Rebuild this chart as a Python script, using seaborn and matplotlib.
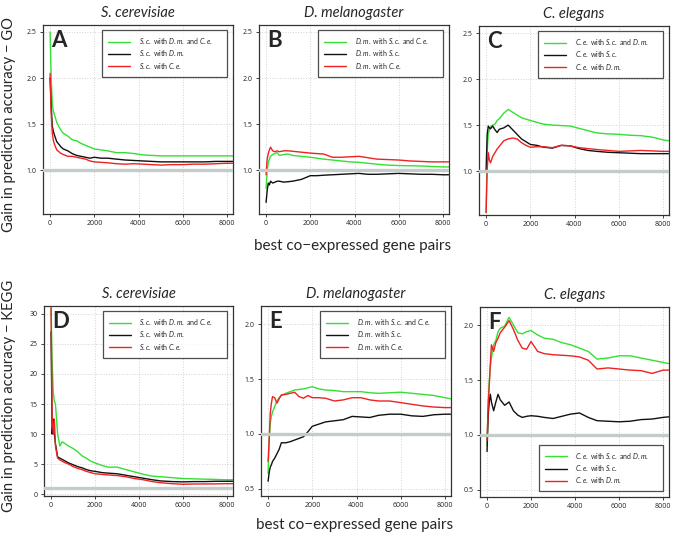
import matplotlib
matplotlib.use("Agg")
import matplotlib.pyplot as plt
import seaborn as sns

# number of best co-expressed gene pairs (shared x grid)
X = [0, 50, 100, 150, 200, 300, 400, 500, 600, 800, 1000, 1200, 1400, 1600, 1800, 2000,
     2300, 2600, 3000, 3400, 3800, 4200, 4600, 5000, 5500, 6000, 6500, 7000, 7500, 8000, 8250]

# GO, S. cerevisiae
A_GREEN = [2.50, 2.00, 1.72, 1.64, 1.60, 1.52, 1.47, 1.43, 1.40, 1.37, 1.33, 1.32, 1.29, 1.27, 1.25, 1.23,
           1.22, 1.21, 1.19, 1.19, 1.18, 1.165, 1.16, 1.155, 1.155, 1.155, 1.155, 1.155, 1.155, 1.155, 1.155]
A_BLACK = [2.00, 1.70, 1.48, 1.42, 1.38, 1.31, 1.28, 1.25, 1.23, 1.21, 1.18, 1.16, 1.15, 1.14, 1.13, 1.14,
           1.13, 1.13, 1.12, 1.11, 1.105, 1.10, 1.095, 1.09, 1.09, 1.09, 1.09, 1.09, 1.095, 1.095, 1.095]
A_RED = [2.05, 1.62, 1.40, 1.32, 1.28, 1.22, 1.20, 1.18, 1.17, 1.15, 1.15, 1.14, 1.13, 1.12, 1.10, 1.09,
         1.085, 1.08, 1.07, 1.065, 1.07, 1.065, 1.06, 1.055, 1.06, 1.06, 1.065, 1.065, 1.07, 1.075, 1.075]

# GO, D. melanogaster
B_GREEN = [0.80, 1.00, 1.08, 1.12, 1.15, 1.17, 1.18, 1.19, 1.16, 1.17, 1.175, 1.16, 1.155, 1.15, 1.145, 1.14,
           1.13, 1.12, 1.11, 1.10, 1.09, 1.085, 1.075, 1.065, 1.055, 1.05, 1.048, 1.045, 1.04, 1.035, 1.035]
B_BLACK = [0.65, 0.78, 0.86, 0.84, 0.88, 0.86, 0.87, 0.88, 0.88, 0.87, 0.875, 0.88, 0.89, 0.90, 0.92, 0.94,
           0.94, 0.945, 0.95, 0.955, 0.96, 0.965, 0.955, 0.955, 0.96, 0.965, 0.96, 0.955, 0.955, 0.95, 0.95]
B_RED = [0.95, 1.12, 1.18, 1.22, 1.25, 1.21, 1.20, 1.21, 1.20, 1.21, 1.21, 1.205, 1.20, 1.195, 1.19, 1.185,
         1.18, 1.175, 1.14, 1.14, 1.145, 1.15, 1.135, 1.12, 1.115, 1.11, 1.10, 1.095, 1.09, 1.09, 1.09]

# GO, C. elegans
C_GREEN = [0.55, 1.22, 1.40, 1.45, 1.48, 1.50, 1.51, 1.55, 1.57, 1.63, 1.67, 1.64, 1.61, 1.58, 1.565, 1.55,
           1.53, 1.51, 1.50, 1.495, 1.49, 1.465, 1.44, 1.415, 1.405, 1.40, 1.39, 1.385, 1.37, 1.34, 1.33]
C_BLACK = [1.00, 1.40, 1.49, 1.47, 1.46, 1.49, 1.45, 1.42, 1.455, 1.47, 1.50, 1.45, 1.40, 1.35, 1.32, 1.29,
           1.28, 1.26, 1.25, 1.28, 1.275, 1.245, 1.225, 1.215, 1.205, 1.20, 1.195, 1.19, 1.19, 1.19, 1.19]
C_RED = [0.55, 1.02, 1.20, 1.12, 1.09, 1.16, 1.20, 1.24, 1.27, 1.33, 1.35, 1.36, 1.35, 1.31, 1.28, 1.26,
         1.265, 1.265, 1.255, 1.28, 1.275, 1.255, 1.245, 1.235, 1.225, 1.215, 1.22, 1.225, 1.22, 1.215, 1.215]

# KEGG, S. cerevisiae
D_GREEN = [31.0, 22.0, 17.0, 15.5, 15.0, 10.0, 8.0, 8.7, 8.5, 8.0, 7.6, 7.1, 6.4, 6.0, 5.5, 5.2,
           4.8, 4.5, 4.5, 4.1, 3.7, 3.3, 3.0, 2.9, 2.75, 2.6, 2.55, 2.5, 2.45, 2.4, 2.4]
D_BLACK = [27.0, 10.0, 12.5, 10.0, 8.4, 6.2, 6.0, 5.8, 5.6, 5.2, 4.9, 4.6, 4.4, 4.1, 3.9, 3.8,
           3.6, 3.5, 3.4, 3.15, 2.9, 2.65, 2.4, 2.2, 2.1, 2.05, 2.1, 2.1, 2.15, 2.15, 2.15]
D_RED = [31.0, 12.8, 10.0, 12.5, 8.0, 6.0, 5.7, 5.5, 5.3, 5.0, 4.6, 4.3, 4.1, 3.8, 3.6, 3.4,
         3.3, 3.2, 3.1, 2.9, 2.6, 2.4, 2.1, 1.9, 1.75, 1.65, 1.7, 1.7, 1.72, 1.75, 1.75]

# KEGG, D. melanogaster
E_GREEN = [0.64, 0.95, 1.10, 1.16, 1.20, 1.25, 1.30, 1.33, 1.35, 1.37, 1.385, 1.40, 1.405, 1.41, 1.42, 1.43,
           1.41, 1.40, 1.395, 1.385, 1.385, 1.385, 1.375, 1.37, 1.375, 1.38, 1.37, 1.36, 1.35, 1.33, 1.32]
E_BLACK = [0.57, 0.65, 0.70, 0.72, 0.75, 0.78, 0.82, 0.86, 0.92, 0.92, 0.93, 0.945, 0.96, 0.975, 1.02, 1.07,
           1.09, 1.11, 1.12, 1.13, 1.16, 1.155, 1.15, 1.17, 1.18, 1.18, 1.165, 1.16, 1.175, 1.18, 1.18]
E_RED = [0.75, 0.95, 1.19, 1.28, 1.34, 1.33, 1.28, 1.32, 1.355, 1.36, 1.37, 1.38, 1.34, 1.325, 1.35, 1.33,
         1.33, 1.325, 1.30, 1.31, 1.33, 1.33, 1.31, 1.30, 1.30, 1.285, 1.27, 1.255, 1.245, 1.24, 1.24]

# KEGG, C. elegans
F_GREEN = [0.90, 1.30, 1.48, 1.62, 1.70, 1.82, 1.86, 1.94, 1.97, 1.99, 2.07, 2.00, 1.93, 1.92, 1.94, 1.95,
           1.91, 1.88, 1.87, 1.84, 1.82, 1.79, 1.76, 1.69, 1.70, 1.72, 1.72, 1.70, 1.68, 1.66, 1.65]
F_BLACK = [0.85, 1.17, 1.30, 1.37, 1.30, 1.22, 1.30, 1.37, 1.32, 1.27, 1.30, 1.22, 1.18, 1.16, 1.17, 1.175,
           1.17, 1.16, 1.15, 1.17, 1.19, 1.20, 1.16, 1.13, 1.125, 1.12, 1.125, 1.14, 1.145, 1.16, 1.165]
F_RED = [0.95, 1.25, 1.45, 1.65, 1.82, 1.76, 1.84, 1.88, 1.93, 1.98, 2.04, 1.96, 1.86, 1.79, 1.78, 1.85,
         1.76, 1.74, 1.73, 1.725, 1.72, 1.71, 1.68, 1.60, 1.61, 1.60, 1.59, 1.585, 1.56, 1.59, 1.59]

SPECIES = ["S. cerevisiae", "D. melanogaster", "C. elegans"]
LEGENDS = [
    [r"$\it{S.c.}$ with $\it{D.m.}$ and $\it{C.e.}$", r"$\it{S.c.}$ with $\it{D.m.}$", r"$\it{S.c.}$ with $\it{C.e.}$"],
    [r"$\it{D.m.}$ with $\it{S.c.}$ and $\it{C.e.}$", r"$\it{D.m.}$ with $\it{S.c.}$", r"$\it{D.m.}$ with $\it{C.e.}$"],
    [r"$\it{C.e.}$ with $\it{S.c.}$ and $\it{D.m.}$", r"$\it{C.e.}$ with $\it{S.c.}$", r"$\it{C.e.}$ with $\it{D.m.}$"],
]
COLORS = ["#33e033", "#111111", "#ee2222"]
X_TICKS = [0, 2000, 4000, 6000, 8000]

sns.set_style("white")
plt.rcParams["font.family"] = ["Lato", "DejaVu Sans"]
plt.rcParams["mathtext.fontset"] = "custom"
plt.rcParams["mathtext.rm"] = "Lato"
plt.rcParams["mathtext.it"] = "Lato:italic"

W, H = 685, 534
fig = plt.figure(figsize=(W / 100, H / 100), dpi=100)


def rect(left, top, w, h):
    return [left / W, 1 - (top + h) / H, w / W, h / H]


panels = [
    ("A", [A_GREEN, A_BLACK, A_RED], (43, 25, 190, 189), (0.524, 2.576), [1.0, 1.5, 2.0, 2.5], "upper"),
    ("B", [B_GREEN, B_BLACK, B_RED], (259, 25, 190, 189), (0.524, 2.576), [1.0, 1.5, 2.0, 2.5], "upper"),
    ("C", [C_GREEN, C_BLACK, C_RED], (479, 26, 190, 189), (0.524, 2.576), [1.0, 1.5, 2.0, 2.5], "upper"),
    ("D", [D_GREEN, D_BLACK, D_RED], (44, 306, 189, 190), (-0.3, 31.3), [0, 5, 10, 15, 20, 25, 30], "upper"),
    ("E", [E_GREEN, E_BLACK, E_RED], (261, 306, 190, 190), (0.436, 2.164), [0.5, 1.0, 1.5, 2.0], "upper"),
    ("F", [F_GREEN, F_BLACK, F_RED], (480, 307, 189, 190), (0.436, 2.164), [0.5, 1.0, 1.5, 2.0], "lower"),
]

for i, (letter, series, pos, ylim, yticks, leg_pos) in enumerate(panels):
    col = i % 3
    ax = fig.add_axes(rect(*pos))
    for vals, color, lab in zip(series, COLORS, LEGENDS[col]):
        sns.lineplot(x=X, y=vals, color=color, linewidth=1.0, ax=ax, label=lab)
    ax.axhline(1.0, color="#c4cbcb", linewidth=2.4, zorder=3)
    ax.set_xlim(-320, 8270)
    ax.set_ylim(*ylim)
    ax.set_xticks(X_TICKS)
    ax.set_xticklabels([str(t) for t in X_TICKS], fontfamily="Open Sans", fontsize=5)
    ax.set_yticks(yticks)
    ax.set_yticklabels([str(t) for t in yticks], fontfamily="Open Sans", fontsize=5)
    ax.grid(True, linestyle=":", color="#d2d2d2", linewidth=0.7)
    ax.tick_params(length=2.5, width=0.6, pad=2, left=True, bottom=True, colors="#222222")
    for sp in ax.spines.values():
        sp.set_color("#333333")
        sp.set_linewidth(0.9)
    ax.set_xlabel("")
    ax.set_ylabel("")
    ax.set_title(SPECIES[col], style="italic", fontsize=10.5, pad=6)
    ax.text(0.045, 0.92, letter, transform=ax.transAxes, fontsize=16, fontweight="bold",
            ha="left", va="center", zorder=5)
    if leg_pos == "upper":
        anchor, loc = (0.31, 0.0, 0.66, 0.973), "upper left"
    else:
        anchor, loc = (0.31, 0.03, 0.66, 0.5), "lower left"
    leg = ax.legend(loc=loc, bbox_to_anchor=anchor, mode="expand", borderaxespad=0,
                    fontsize=5, frameon=True, fancybox=False, handlelength=3.2,
                    handletextpad=1.2, borderpad=0.9, labelspacing=0.3)
    leg.get_frame().set_edgecolor("#222222")
    leg.get_frame().set_linewidth(0.9)

fig.text(9 / W, 1 - 124 / H, "Gain in prediction accuracy \u2212 GO", rotation=90,
         ha="center", va="center", fontsize=10.6)
fig.text(9 / W, 1 - 396 / H, "Gain in prediction accuracy \u2212 KEGG", rotation=90,
         ha="center", va="center", fontsize=10.6)
fig.text(353 / W, 1 - 246 / H, "best co\u2212expressed gene pairs", ha="center", va="center", fontsize=11)
fig.text(355 / W, 1 - 525 / H, "best co\u2212expressed gene pairs", ha="center", va="center", fontsize=11)

fig.savefig("out.png", dpi=100)
